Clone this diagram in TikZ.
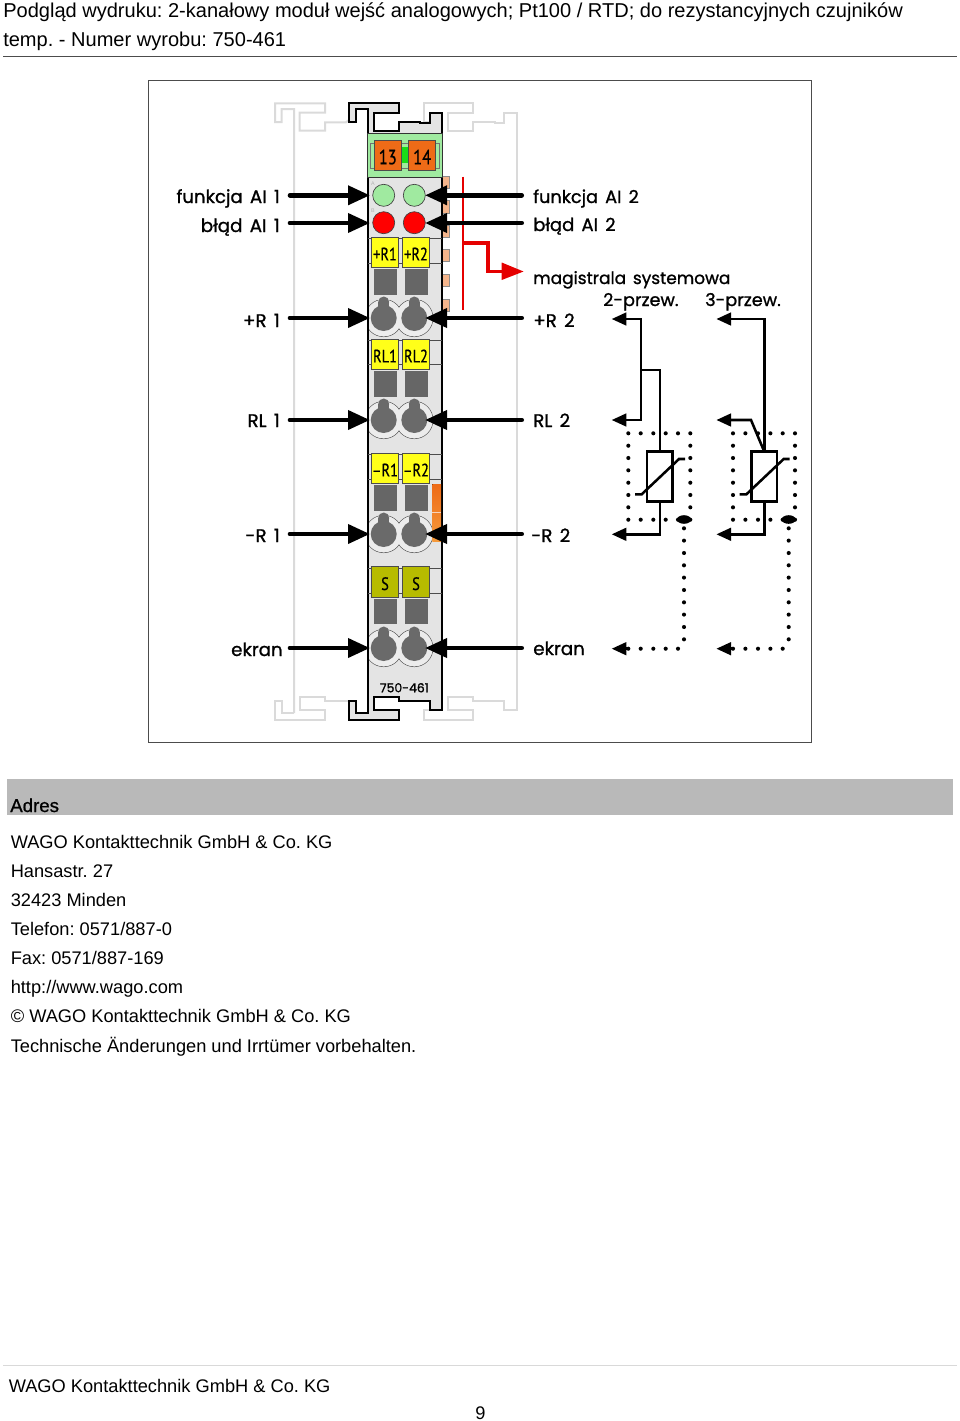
\documentclass[tikz,border=0pt]{standalone}
\usepackage{fontspec}
\setmainfont{Liberation Sans}
\newfontfamily\labfont[FakeBold=1.1,WordSpace=1.5]{Poppins}
\newfontfamily\termfont[FakeBold=0.6,FakeStretch=0.8]{PT Sans}
\usetikzlibrary{arrows.meta}
\definecolor{ghost}{HTML}{DADADA}
\definecolor{body}{HTML}{E4E4E4}
\definecolor{tab}{HTML}{F4B58C}
\definecolor{pgreen}{HTML}{A0EAA0}
\definecolor{hdrgrey}{HTML}{B9B9B9}
\definecolor{holegrey}{HTML}{6A6A6A}
\definecolor{sqgrey}{HTML}{666666}
\definecolor{olive}{HTML}{B7BB00}
\definecolor{yel}{HTML}{FFFF19}
\definecolor{org}{HTML}{EE6B17}
\definecolor{orgl}{HTML}{F59A3C}
\tikzset{
 x=0.75pt,y=-0.75pt,
 page/.style={anchor=base west,inner sep=0,font=\frenchspacing\fontsize{15.03pt}{18pt}\selectfont},
 addr/.style={anchor=base west,inner sep=0,font=\frenchspacing\fontsize{13.68pt}{16pt}\selectfont},
 lab/.style={inner sep=0,font=\labfont\fontsize{13.7pt}{16pt}\selectfont,anchor=base east},
 labr/.style={inner sep=0,font=\labfont\fontsize{13.7pt}{16pt}\selectfont,anchor=base west},
 ghostline/.style={draw=ghost,line width=1.5pt},
 sig/.style={line width=3.5pt,-{Triangle[length=16.5pt,width=14pt]}},
 wire/.style={line width=1.9pt,-{Triangle[length=11pt,width=9.5pt]}},
 wireplain/.style={line width=1.9pt},
 term/.style={inner sep=0,font=\termfont\fontsize{13.5pt}{14pt}\selectfont,text=black},
 tabbox/.style={fill=tab,draw=black!45,line width=0.4pt},
 square/.style={fill=sqgrey,draw=black!60,line width=0.5pt},
 label box/.style={draw=black!70,line width=0.6pt},
}
\newcommand{\wdot}[2]{\fill (#1,#2) circle (2.05);}
\newcommand{\hole}[2]{%
 \fill[holegrey] (#1,#2) circle (13);
 \fill[holegrey] (#1,#2-16) circle (5.5);
 \fill[holegrey] (#1-5.5,#2-16) rectangle (#1+5.5,#2-8);}
\begin{document}
\begin{tikzpicture}
\useasboundingbox (0,0) rectangle (960,1421);
% page header
\node[page] (h1) at (3,17) {Podgląd wydruku: 2-kanałowy moduł wejść analogowych; Pt100 / RTD; do rezystancyjnych czujników};
\node[page] (h2) at (3,46.5) {temp. - Numer wyrobu: 750-461};
\draw[black!70,line width=0.75pt] (3,56.5) -- (957,56.5);
% frame
\draw[black!70,line width=0.75pt] (148.5,80.5) rectangle (811,742.5);
% ghost neighbours
\draw[ghostline] (294,713) -- (294,109) -- (281.5,109) -- (281.5,122) -- (275,122) -- (275,103.3) -- (325,103.3) -- (325,112.7) -- (299.7,112.7) -- (299.7,130.7) -- (325,130.7) -- (325,122.3) -- (346,122.3) -- (349,120);
\draw[ghostline] (294,713) -- (281.5,713) -- (281.5,701) -- (275,701) -- (275,719.7) -- (325,719.7) -- (325,710.3) -- (299.7,710.3) -- (299.7,697.3) -- (325,697.3) -- (325,701) -- (350,701);
\draw[ghostline] (442,122) -- (423.7,122) -- (423.7,103.3) -- (473.3,103.3) -- (473.3,112.7) -- (448.3,112.7) -- (448.3,130.7) -- (473.3,130.7) -- (473.3,122.3) -- (495,122.3) -- (495,123) -- (504.3,123) -- (504.3,112.7) -- (516.7,112.7) -- (516.7,710.3) -- (504.3,710.3) -- (504.3,701) -- (473.3,701) -- (473.3,697.3) -- (448.3,697.3) -- (448.3,710.3) -- (473.3,710.3) -- (473.3,719.7) -- (423.7,719.7) -- (423.7,710.3) -- (442,710.3);
% orange tabs
\foreach \t in {176,200.7,225,249.3,274.3,299} \draw[tabbox] (442.7,\t) rectangle (449,\t+12.3);
% module body
\path[fill=body] (349.3,103.3) -- (398.7,103.3) -- (398.7,112.7) -- (374,112.7) -- (374,130.7) -- (398.7,130.7) -- (398.7,122.3) -- (420,122.3) -- (420,123.3) -- (430,123.3) -- (430,112.7) -- (442.3,112.7) -- (442.3,710.3) -- (430,710.3) -- (430,701) -- (398.7,701) -- (398.7,697.3) -- (374,697.3) -- (374,710.3) -- (398.7,710.3) -- (398.7,719.7) -- (349.3,719.7) -- (349.3,701) -- (355.7,701) -- (355.7,713.3) -- (367.7,713.3) -- (367.7,109.3) -- (355.7,109.3) -- (355.7,122) -- (349.3,122) -- cycle;
% rings, clipped to the body: outlines first, then the fills, so that only the outer contour shows
\begin{scope}
\clip (367.7,300) rectangle (442.3,680);
\foreach \y in {318,420,534,648} {
 \draw[black!65,line width=0.5pt] (383.7,\y) circle (18.7);
 \draw[black!65,line width=0.5pt] (414.3,\y) circle (18.7);
}
\foreach \y in {318,420,534,648} {
 \fill[body!70] (383.7,\y) circle (18.3);
 \fill[body!70] (414.3,\y) circle (18.3);
}
\end{scope}
% outline of body
\draw[black,line width=1.3pt,line join=miter] (349.3,103.3) -- (398.7,103.3) -- (398.7,112.7) -- (374,112.7) -- (374,130.7) -- (398.7,130.7) -- (398.7,122.3) -- (420,122.3) -- (420,123.3) -- (430,123.3) -- (430,112.7) -- (442.3,112.7) -- (442.3,710.3) -- (430,710.3) -- (430,701) -- (398.7,701) -- (398.7,697.3) -- (374,697.3) -- (374,710.3) -- (398.7,710.3) -- (398.7,719.7) -- (349.3,719.7) -- (349.3,701) -- (355.7,701) -- (355.7,713.3) -- (367.7,713.3) -- (367.7,109.3) -- (355.7,109.3) -- (355.7,122) -- (349.3,122) -- cycle;
% green head
\draw[fill=pgreen,draw=black!80,line width=0.6pt] (367.7,133.3) rectangle (442.3,177.5);
\draw[draw=black!55,line width=0.4pt] (370.7,143.5) rectangle (439,168.5);
\fill[green!85!black!90] (400,147) rectangle (410,163);
\draw[fill=org,draw=black!70,line width=0.5pt] (374.3,140.7) rectangle (401.3,170.7);
\draw[fill=org,draw=black!70,line width=0.5pt] (408.7,140.7) rectangle (435.7,170.7);
\node[term,font=\termfont\fontsize{15.5pt}{16pt}\selectfont] (n13) at (387.8,157) {13};
\node[term,font=\termfont\fontsize{15.5pt}{16pt}\selectfont] (n14) at (422.2,157) {14};
% LEDs
\foreach \x in {383.7,414.3} {
 \draw[fill=pgreen,draw=black!75,line width=0.5pt] (\x,195.3) circle (11);
 \draw[fill=red,draw=black!75,line width=0.5pt] (\x,222.7) circle (11);
}
\node[inner sep=0,font=\fontsize{4pt}{4pt}\selectfont,text=black!30] (la) at (373,184) {A};
\node[inner sep=0,font=\fontsize{4pt}{4pt}\selectfont,text=black!30] (lb) at (373,211) {B};
% marker strips
\foreach \t/\b in {238.5/263.5,340.5/364.5,454.5/479,568.5/593} {
 \draw[black!70,line width=0.5pt] (367.7,\t) -- (442.3,\t);
 \draw[black!70,line width=0.5pt] (367.7,\b) -- (442.3,\b);
}
% orange strip
\fill[top color=org,bottom color=orgl] (432.3,484.3) rectangle (441,541);
\draw[tab!60,line width=0.7pt] (432.3,512.7) -- (441,512.7);
% marker boxes
\foreach \t/\c/\a/\b in {237/yel/+R1/+R2,339/yel/RL1/RL2,453/yel/–R1/–R2,566.7/olive/S/S} {
 \draw[label box,fill=\c] (371.3,\t) rectangle (398.7,\t+30.7);
 \draw[label box,fill=\c] (402.3,\t) rectangle (429.7,\t+30.7);
 \node[term] at (385,\t+17) {\a};
 \node[term] at (416,\t+17) {\b};
 \draw[square] (374.3,\t+32.3) rectangle (396.3,\t+57);
 \draw[square] (405,\t+32.3) rectangle (427,\t+57);
}
% screw holes
\foreach \y in {318,420,534,648} {\hole{383.7}{\y}\hole{414.3}{\y}}
\node[inner sep=0,font=\labfont\fontsize{9.3pt}{12pt}\selectfont] (type) at (404.3,687.7) {750-461};
% system bus
\draw[red!90!black,line width=1.7pt] (463.3,176.7) -- (463.3,310);
\draw[red!90!black,line width=2.8pt] (463.3,243.3) -- (487.7,243.3) -- (487.7,271.5) -- (503,271.5);
\fill[red!90!black] (501.7,262.5) -- (523.5,271.5) -- (501.7,280) -- cycle;
% signal arrows, left and right
\foreach \n/\y in {a/195.3,b/223,c/318,d/420,e/534,f/648} {
 \coordinate (L\n s) at (290,\y);
 \coordinate (L\n t) at (370,\y);
 \coordinate (R\n s) at (521.7,\y);
 \coordinate (R\n t) at (425,\y);
 \draw[sig,line cap=round] (L\n s) -- (L\n t);
 \draw[sig,line cap=round] (R\n s) -- (R\n t);
}
% left labels
\node[lab,font=\labfont\fontsize{13.6pt}{16pt}\selectfont] (l1) at (280,203) {funkcja AI 1};
\node[lab] (l2) at (280,232) {błąd AI 1};
\node[lab] (l3) at (280,327) {+R 1};
\node[lab] (l4) at (280,427) {RL 1};
\node[lab] (l5) at (280,542) {-R 1};
\node[lab] (l6) at (283,656) {ekran};
% right labels
\node[labr,font=\labfont\fontsize{13.3pt}{16pt}\selectfont] (r1) at (533,203) {funkcja AI 2};
\node[labr,font=\labfont\fontsize{13.5pt}{16pt}\selectfont] (r2) at (533,231) {błąd AI 2};
\node[labr,font=\labfont\fontsize{12.7pt}{16pt}\selectfont] (r3) at (533,284) {magistrala systemowa};
\node[labr,font=\labfont\fontsize{13.2pt}{16pt}\selectfont] (r4) at (603,306) {2-przew.};
\node[labr,font=\labfont\fontsize{13.2pt}{16pt}\selectfont] (r5) at (705,306) {3-przew.};
\node[labr] (r6) at (533,327) {+R 2};
\node[labr] (r7) at (533,427) {RL 2};
\node[labr] (r8) at (531,542) {-R 2};
\node[labr] (r9) at (533,655) {ekran};
% sensors (both share the same lower part)
\foreach \o/\k in {0/p,104.7/q} {
 \draw[wireplain,fill=white] (647+\o,451.7) rectangle (672.3+\o,501.7);
 \draw[wireplain] (635+\o,494.3) -- (641.7+\o,494.3) -- (679+\o,459) -- (685+\o,459);
 \foreach \x in {628.3,640.7,653.3,665.7,678,690.3} {\wdot{\x+\o}{433.3}\wdot{\x+\o}{519.7}}
 \foreach \y in {445.7,458,470.3,482.7,495,507.3} {\wdot{628.3+\o}{\y}\wdot{690.3+\o}{\y}}
 \fill (684+\o,519.5) ellipse (7 and 4.3);
 \foreach \y in {528.3,540.6,553,565.3,577.6,590,602.3,614.6,627,639.3} {\wdot{684+\o}{\y}}
 \foreach \x in {628.3,640.7,653.3,665.7,678} {\wdot{\x+\o}{648.7}}
 \coordinate (bot\k) at (660+\o,501.7);
 \coordinate (e\k) at (611.7+\o,534.3);
 \draw[wire] (bot\k) -- (660+\o,534.3) -- (e\k);
 \coordinate (sh\k) at (628+\o,648.7);
 \coordinate (st\k) at (611.7+\o,648.7);
 \draw[wire] (sh\k) -- (st\k);
}
% two-wire
\coordinate (p1) at (611.7,319);
\coordinate (p2) at (611.7,420);
\draw[wire] (641,340) -- (641,319) -- (p1);
\draw[wire] (641,340) -- (641,420) -- (p2);
\draw[wireplain] (641,370) -- (660,370) -- (660,451.7);
% three-wire
\coordinate (q1) at (716.4,319);
\coordinate (q2) at (716.4,420);
\draw[wire] (764.3,451.7) -- (764.3,319) -- (q1);
\draw[wire] (764.3,451.7) -- (751,420) -- (q2);
% address block
\fill[hdrgrey] (7,779) rectangle (953,815);
\node[page,font=\fontsize{14pt}{16pt}\selectfont] (adres) at (10,812) {\addfontfeature{FakeBold=0.8}Adres};
\node[addr] (a1) at (10.5,848) {WAGO Kontakttechnik GmbH \& Co. KG};
\node[addr] (a2) at (10.5,877) {Hansastr. 27};
\node[addr] (a3) at (10.5,906) {32423 Minden};
\node[addr] (a4) at (10.5,935) {Telefon: 0571/887-0};
\node[addr] (a5) at (10.5,964) {Fax: 0571/887-169};
\node[addr] (a6) at (10.5,993) {http://www.wago.com};
\node[addr] (a7) at (10.5,1022) {© WAGO Kontakttechnik GmbH \& Co. KG};
\node[addr] (a8) at (10.5,1052) {Technische Änderungen und Irrtümer vorbehalten.};
% footer
\draw[black!15,line width=0.75pt] (3,1365.5) -- (957,1365.5);
\node[addr] (f1) at (8.5,1392) {WAGO Kontakttechnik GmbH \& Co. KG};
\node[addr] (f2) at (475,1419) {9};
\end{tikzpicture}
\end{document}
